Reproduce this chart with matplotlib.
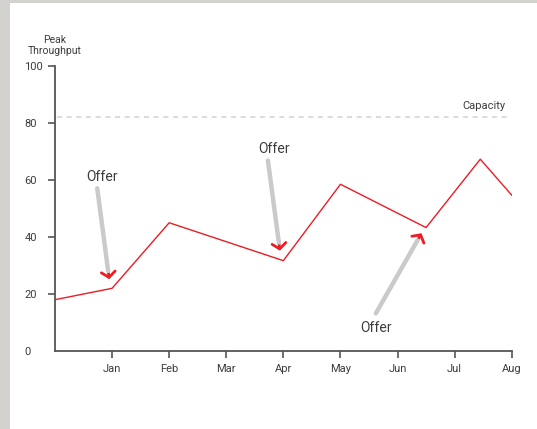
import matplotlib

matplotlib.use("Agg")
import matplotlib.pyplot as plt
from matplotlib.patches import Rectangle

# Month positions (0 = start of period, 1 = Jan ... 8 = Aug)
MONTH_TICKS = [1, 2, 3, 4, 5, 6, 7, 8]
MONTH_LABELS = ["Jan", "Feb", "Mar", "Apr", "May", "Jun", "Jul", "Aug"]
Y_TICKS = [0, 20, 40, 60, 80, 100]

# Peak throughput series
POINT_X = [0, 1, 2, 4, 5, 6.5, 7.45, 8]
THROUGHPUT = [18, 22, 45, 31.7, 58.5, 43.3, 67.3, 54.7]
CAPACITY = 82

# "Offer" callouts: label position, arrow tail, arrow tip
OFFER_TEXT = [(0.82, 61.1), (3.84, 70.8), (5.63, 8.2)]
OFFER_TAIL = [(0.74, 57.1), (3.73, 66.8), (5.62, 13.2)]
OFFER_TIP = [(0.95, 25.2), (3.94, 35.2), (6.42, 41.3)]

RED = "#ec1c24"
TEXT = "#3c3c3c"
SPINE = "#555555"
SHAFT = "#cacaca"

plt.rcParams["font.family"] = ["Roboto", "DejaVu Sans"]

fig = plt.figure(figsize=(5.37, 4.29), dpi=100, facecolor="#d3d2cf")
fig.patches.append(Rectangle((10 / 537, 0), 1, 426 / 429, transform=fig.transFigure,
                             facecolor="white", edgecolor="none", zorder=-1))
ax = fig.add_axes([55 / 537, 78 / 429, 456.7 / 537, 285 / 429])
ax.set_facecolor("none")

ax.plot(POINT_X, THROUGHPUT, color=RED, lw=1.0, zorder=2)

# capacity line
ax.axhline(CAPACITY, xmin=0.005, xmax=0.99, color="#d6d6d6", lw=1.2, ls=(0, (3, 2.8)), zorder=1)
ax.text(7.9, CAPACITY + 2.2, "Capacity", ha="right", va="bottom", fontsize=8, color=TEXT)

for (tx, ty), tail, tip in zip(OFFER_TEXT, OFFER_TAIL, OFFER_TIP):
    ax.text(tx, ty, "Offer", ha="center", va="center", fontsize=10, color=TEXT)
    ax.annotate("", xy=tip, xytext=tail, zorder=3,
                arrowprops=dict(arrowstyle="->,head_length=0.4,head_width=0.5", color=RED,
                                lw=2.0, shrinkA=0, shrinkB=0))
    ax.annotate("", xy=tip, xytext=tail, zorder=4,
                arrowprops=dict(arrowstyle="-", color=SHAFT, lw=3.2, shrinkA=0, shrinkB=6))

ax.set_xlim(0, 8)
ax.set_ylim(0, 100)
ax.set_xticks(MONTH_TICKS)
ax.set_xticklabels(MONTH_LABELS)
ax.set_yticks(Y_TICKS)
ax.set_yticklabels([str(v) for v in Y_TICKS], ha="left")

for side in ("top", "right"):
    ax.spines[side].set_visible(False)
for side in ("left", "bottom"):
    ax.spines[side].set_color(SPINE)
    ax.spines[side].set_linewidth(1.3)

ax.tick_params(axis="x", direction="out", length=5, width=1.2, color=SPINE,
               labelsize=8, labelcolor=TEXT, pad=4)
ax.tick_params(axis="y", direction="out", length=5, width=1.2, color=SPINE,
               labelsize=8, labelcolor=TEXT, pad=17)
ax.yaxis.get_major_ticks()[0].tick1line.set_visible(False)

ax.annotate("Peak\nThroughput", xy=(0, 1), xycoords="axes fraction", xytext=(0, 7),
            textcoords="offset points", ha="center", va="bottom", fontsize=7.5,
            color=TEXT, linespacing=1.2)

fig.savefig("out.png", dpi=100, facecolor=fig.get_facecolor())
